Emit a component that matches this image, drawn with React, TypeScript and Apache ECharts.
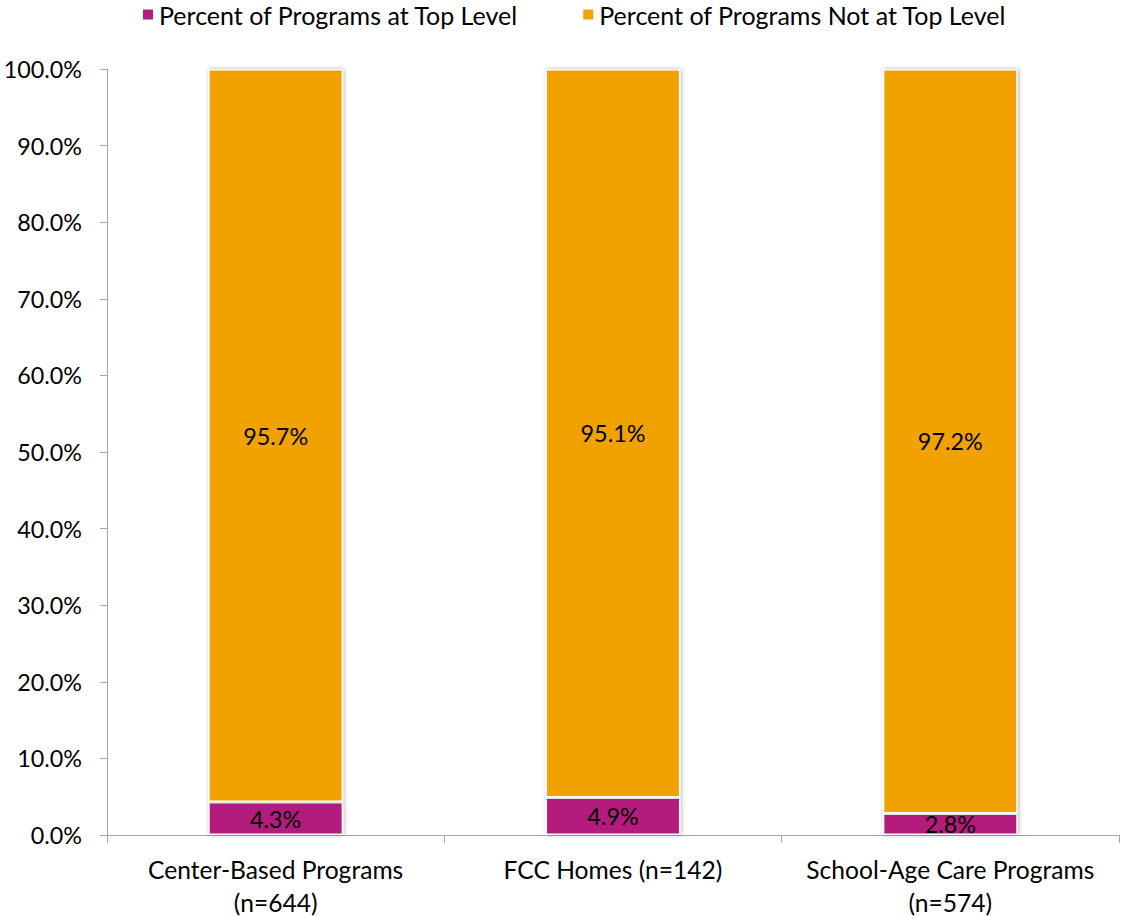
import React, { useEffect, useRef } from "react";
import * as echarts from "echarts";

const categories = ["Center-Based Programs\n(n=644)", "FCC Homes (n=142)", "School-Age Care Programs\n(n=574)"];
const seriesNames = ["Percent of Programs at Top Level", "Percent of Programs Not at Top Level"];
const topLevel = [4.3, 4.9, 2.8];
const notTopLevel = [95.7, 95.1, 97.2];
const colors = ["#B31B7D", "#F2A200"];

export default function App() {
  const ref = useRef<HTMLDivElement>(null);
  useEffect(() => {
    if (!ref.current) return;
    const chart = echarts.init(ref.current, null, { renderer: "svg" });
    const font = "Lato";
    const itemStyleFor = (c: string) => ({
      color: c,
      borderColor: "#ffffff",
      borderWidth: 1.5,
      shadowBlur: 4,
      shadowColor: "rgba(0,0,0,0.3)",
      shadowOffsetX: 1,
      shadowOffsetY: 0,
    });
    const labelCfg = {
      show: true,
      position: "inside",
      fontSize: 23.4,
      color: "#000",
      fontFamily: font,
      formatter: (p: any) => Number(p.value).toFixed(1) + "%",
    };
    chart.setOption({
      animation: false,
      textStyle: { fontFamily: font },
      legend: {
        top: 2,
        left: 141,
        padding: 0,
        itemWidth: 12,
        itemHeight: 12,
        itemGap: 63,
        icon: "rect",
        textStyle: { fontSize: 25, color: "#000", fontFamily: font },
        data: seriesNames,
      },
      grid: { left: 107, right: 2, top: 69, bottom: 81, containLabel: false, outerBoundsMode: "none" },
      xAxis: {
        type: "category",
        data: categories,
        axisLine: { lineStyle: { color: "#a6a6a6", width: 1 } },
        axisTick: { show: true, alignWithLabel: false, length: 8, lineStyle: { color: "#a6a6a6" } },
        axisLabel: { fontSize: 24.6, color: "#000", margin: 18, lineHeight: 33, fontFamily: font, interval: 0 },
      },
      yAxis: {
        type: "value",
        min: 0,
        max: 100,
        interval: 10,
        axisLine: { show: true, lineStyle: { color: "#a6a6a6", width: 1 } },
        axisTick: { show: true, length: 7, lineStyle: { color: "#a6a6a6" } },
        splitLine: { show: false },
        axisLabel: {
          fontSize: 23.3,
          color: "#000",
          margin: 25,
          fontFamily: font,
          formatter: (v: number) => v.toFixed(1) + "%",
        },
      },
      series: [
        {
          name: seriesNames[0],
          type: "bar",
          stack: "total",
          barWidth: "40%",
          data: topLevel,
          itemStyle: itemStyleFor(colors[0]),
          label: labelCfg,
        },
        {
          name: seriesNames[1],
          type: "bar",
          stack: "total",
          barWidth: "40%",
          data: notTopLevel,
          itemStyle: itemStyleFor(colors[1]),
          label: labelCfg,
        },
      ],
    });
    return () => chart.dispose();
  }, []);
  return <div ref={ref} style={{ position: "absolute", left: 0, top: 0, width: 1121, height: 916 }} />;
}
